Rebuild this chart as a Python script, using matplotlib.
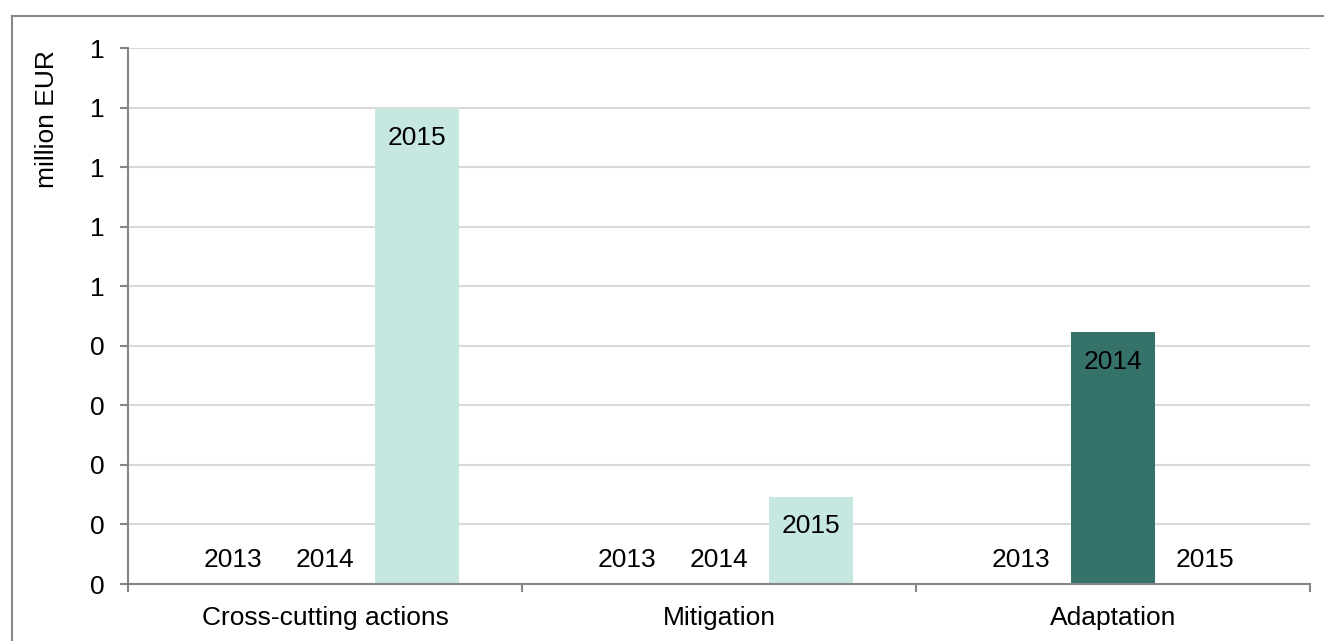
import math
import matplotlib
matplotlib.use("Agg")
import matplotlib.pyplot as plt
from matplotlib.ticker import FixedLocator, FuncFormatter
from matplotlib.lines import Line2D

# chart data
categories = ["Cross-cutting actions", "Mitigation", "Adaptation"]
years = ["2013", "2014", "2015"]
values = {
    "2013": [0.0, 0.0, 0.0],
    "2014": [0.0, 0.0, 0.424],
    "2015": [0.8, 0.147, 0.0],
}
colors = {"2013": "#9FD2C8", "2014": "#35736A", "2015": "#C7E7E1"}
y_ticks = [0.0, 0.1, 0.2, 0.3, 0.4, 0.5, 0.6, 0.7, 0.8, 0.9]

W, H = 1324, 641
plt.rcParams["font.family"] = ["Liberation Sans", "DejaVu Sans"]
fig = plt.figure(figsize=(W / 100, H / 100), dpi=100)
ax = fig.add_axes([128 / W, 1 - 584 / H, (1310 - 128) / W, (584 - 48.3) / H])

slot = 0.234
width = 0.213
for j, yr in enumerate(years):
    xs = [i + (j - 1) * slot for i in range(len(categories))]
    ax.bar(xs, values[yr], width=width, color=colors[yr], zorder=3)
    for x, v in zip(xs, values[yr]):
        if v > 0:
            ax.annotate(yr, (x, v), xytext=(0, -26.6), textcoords="offset points",
                        ha="center", va="baseline", fontsize=19, zorder=4)
        else:
            ax.annotate(yr, (x, 0), xytext=(0, 12.2), textcoords="offset points",
                        ha="center", va="baseline", fontsize=19, zorder=4)

ax.set_xlim(-0.5, len(categories) - 0.5)
ax.set_ylim(0, 0.9)

ax.yaxis.set_major_locator(FixedLocator(y_ticks))
ax.yaxis.set_major_formatter(FuncFormatter(lambda v, p: str(math.floor(v + 0.5 + 1e-9))))
ax.grid(axis="y", color="#D9D9D9", linewidth=1.5, zorder=0)

ax.set_xticks(range(len(categories)))
ax.set_xticklabels(categories)
ax.set_xticks([-0.5, 0.5, 1.5, 2.5], minor=True)
ax.tick_params(axis="x", which="major", length=0, pad=16, labelsize=19)
ax.tick_params(axis="x", which="minor", length=6, width=1.5, color="#868686", direction="out")
ax.tick_params(axis="y", length=6, width=1.5, color="#868686", pad=10.5, labelsize=19)

for s in ["top", "right"]:
    ax.spines[s].set_visible(False)
for s in ["left", "bottom"]:
    ax.spines[s].set_color("#868686")
    ax.spines[s].set_linewidth(1.5)
    ax.spines[s].set_zorder(5)

fig.text(47 / W, 1 - 50 / H, "million EUR", rotation=90, ha="center", va="top", fontsize=19)

# outer frame of the chart area
fig.add_artist(Line2D([11.5 / W, 11.5 / W], [0, 1 - 15.5 / H], color="#878787", linewidth=1.5))
fig.add_artist(Line2D([11.5 / W, 1], [1 - 15.5 / H, 1 - 15.5 / H], color="#878787", linewidth=1.5))

fig.savefig("out.png", dpi=100)
